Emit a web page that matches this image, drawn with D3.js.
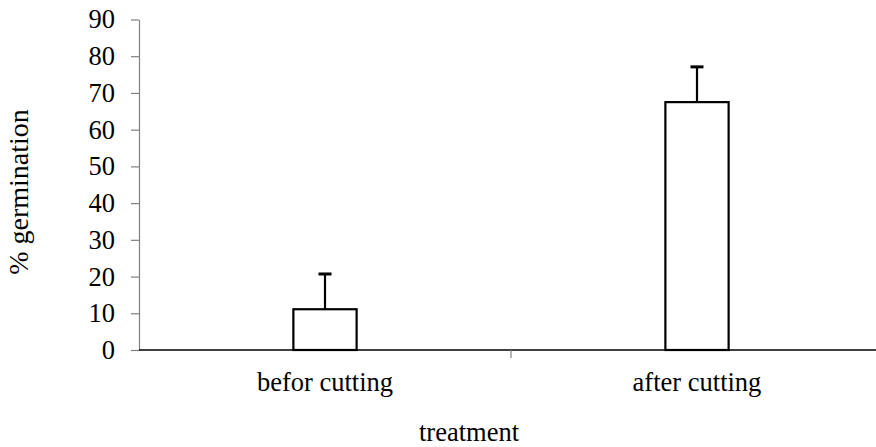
<!DOCTYPE html>
<html>
<head>
<meta charset="utf-8">
<script src="https://cdn.jsdelivr.net/npm/d3@7"></script>
<style>
  body { margin: 0; background: #fff; }
  svg { display: block; font-family: "Liberation Serif", "Times New Roman", serif; }
</style>
</head>
<body>
<div id="chart"></div>
<script>
// Dati
const categories = ['befor cutting', 'after cutting'];
const means = [11.1, 67.5];
const errors = [9.6, 9.6];
const yTicks = [0, 10, 20, 30, 40, 50, 60, 70, 80, 90];

// Dimensioni
const width = 876, height = 447;
const margin = { top: 19.5, right: -7, bottom: 97, left: 139 };
const fontSize = 26.5;

const svg = d3.select('#chart')
    .append('svg')
    .attr('width', width)
    .attr('height', height);

// Scale
const x = d3.scaleBand()
    .domain(categories)
    .range([margin.left, width - margin.right])
    .padding(0);

const y = d3.scaleLinear()
    .domain([0, 90])
    .range([height - margin.bottom, margin.top]);

const barW = x.bandwidth() * 0.17;

// Asse Y (grigio)
const yAxis = svg.append('g')
    .attr('transform', `translate(${margin.left},0)`)
    .call(d3.axisLeft(y).tickValues(yTicks).tickSize(8).tickPadding(16).tickSizeOuter(0));
yAxis.select('.domain').attr('stroke', '#808080').attr('stroke-width', 1.2);
yAxis.selectAll('.tick line').attr('stroke', '#808080').attr('stroke-width', 1.2);
yAxis.selectAll('.tick text')
    .attr('font-size', fontSize)
    .attr('fill', '#000')
    .attr('font-family', '"Liberation Serif", serif')
    .attr('dy', '0.32em');

// Asse X
svg.append('line')
    .attr('x1', margin.left)
    .attr('x2', width - margin.right)
    .attr('y1', y(0))
    .attr('y2', y(0))
    .attr('stroke', '#000')
    .attr('stroke-width', 1.5);

// Tick tra le categorie
svg.selectAll('.cat-tick')
    .data(categories.slice(1))
    .enter()
    .append('line')
    .attr('x1', d => x(d))
    .attr('x2', d => x(d))
    .attr('y1', y(0))
    .attr('y2', y(0) + 8)
    .attr('stroke', '#808080')
    .attr('stroke-width', 1.2);

// Barre
svg.selectAll('.bar')
    .data(categories)
    .enter()
    .append('rect')
    .attr('x', d => x(d) + x.bandwidth() / 2 - barW / 2)
    .attr('y', (d, i) => y(means[i]))
    .attr('width', barW)
    .attr('height', (d, i) => y(0) - y(means[i]))
    .attr('fill', '#fff')
    .attr('stroke', '#000')
    .attr('stroke-width', 2.2);

// Barre d'errore
svg.selectAll('.err')
    .data(categories)
    .enter()
    .append('line')
    .attr('x1', d => x(d) + x.bandwidth() / 2)
    .attr('x2', d => x(d) + x.bandwidth() / 2)
    .attr('y1', (d, i) => y(means[i]))
    .attr('y2', (d, i) => y(means[i] + errors[i]))
    .attr('stroke', '#000')
    .attr('stroke-width', 2.2);

svg.selectAll('.cap')
    .data(categories)
    .enter()
    .append('line')
    .attr('x1', d => x(d) + x.bandwidth() / 2 - 6.5)
    .attr('x2', d => x(d) + x.bandwidth() / 2 + 6.5)
    .attr('y1', (d, i) => y(means[i] + errors[i]))
    .attr('y2', (d, i) => y(means[i] + errors[i]))
    .attr('stroke', '#000')
    .attr('stroke-width', 3);

// Etichette categorie
svg.selectAll('.cat-label')
    .data(categories)
    .enter()
    .append('text')
    .attr('x', d => x(d) + x.bandwidth() / 2)
    .attr('y', y(0) + 41)
    .attr('text-anchor', 'middle')
    .attr('font-size', fontSize)
    .text(d => d);

// Titoli assi
svg.append('text')
    .attr('x', 469)
    .attr('y', 441)
    .attr('text-anchor', 'middle')
    .attr('font-size', fontSize)
    .text('treatment');

svg.append('text')
    .attr('transform', 'translate(28,192) rotate(-90)')
    .attr('text-anchor', 'middle')
    .attr('font-size', 28)
    .text('% germination');
</script>
</body>
</html>
